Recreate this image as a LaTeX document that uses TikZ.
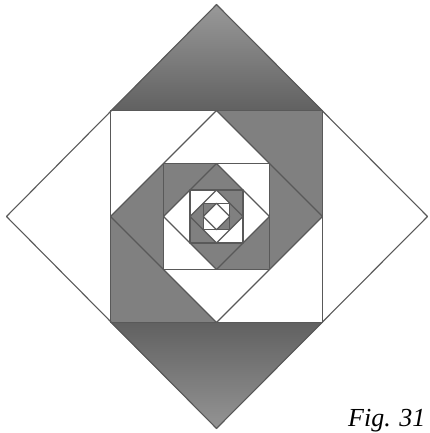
\documentclass[tikz,border=0pt]{standalone}
\usepackage{fontspec}
\setmainfont{Liberation Serif}
\begin{document}
\begin{tikzpicture}[x=1pt,y=-1pt,
  pencil/.style={draw=black!65, line width=1.1pt, line join=round},
  dark/.style={fill=black!50},
  figlabel/.style={inner sep=0pt, font=\itshape\fontsize{26}{30}\selectfont}]
\useasboundingbox (0,0) rectangle (430,433);
\begin{scope}[shift={(216.5,216.5)}]
  % Level A: outer diamond minus first square (top and bottom dark)
  \shade[top color=black!40, bottom color=black!62] (0,-212) -- (-106,-106) -- (106,-106) -- cycle;
  \shade[top color=black!62, bottom color=black!42] (0,212) -- (-106,106) -- (106,106) -- cycle;
  % Level B: square 106 minus diamond (TR, BL dark)
  \fill[dark] (106,-106) -- (0,-106) -- (106,0) -- cycle;
  \fill[dark] (-106,106) -- (-106,0) -- (0,106) -- cycle;
  % Level C: diamond 106 minus square 53 (left, right dark)
  \fill[dark] (-106,0) -- (-53,-53) -- (-53,53) -- cycle;
  \fill[dark] (106,0) -- (53,-53) -- (53,53) -- cycle;
  % Level D: square 53 minus diamond (TL, BR dark)
  \fill[dark] (-53,-53) -- (0,-53) -- (-53,0) -- cycle;
  \fill[dark] (53,53) -- (53,0) -- (0,53) -- cycle;
  % Level E: diamond 53 minus square 26.5 (top, bottom dark)
  \fill[dark] (0,-53) -- (-26.5,-26.5) -- (26.5,-26.5) -- cycle;
  \fill[dark] (0,53) -- (-26.5,26.5) -- (26.5,26.5) -- cycle;
  % Level F: square 26.5 minus diamond (TR, BL dark)
  \fill[dark] (26.5,-26.5) -- (0,-26.5) -- (26.5,0) -- cycle;
  \fill[dark] (-26.5,26.5) -- (-26.5,0) -- (0,26.5) -- cycle;
  % Level G: diamond 26.5 minus square 13.25 (left, right dark)
  \fill[dark] (-26.5,0) -- (-13.25,-13.25) -- (-13.25,13.25) -- cycle;
  \fill[dark] (26.5,0) -- (13.25,-13.25) -- (13.25,13.25) -- cycle;
  % Level H: square 13.25 minus diamond (TL, BR dark)
  \fill[dark] (-13.25,-13.25) -- (0,-13.25) -- (-13.25,0) -- cycle;
  \fill[dark] (13.25,13.25) -- (13.25,0) -- (0,13.25) -- cycle;
  % Outlines
  \draw[pencil] (0,-212) -- (211,0) -- (0,212) -- (-210,0) -- cycle;
  \foreach \h in {106,53,26.5,13.25} {
    \draw[pencil] (-\h,-\h) rectangle (\h,\h);
    \draw[pencil] (0,-\h) -- (\h,0) -- (0,\h) -- (-\h,0) -- cycle;
  }
\end{scope}
\node[figlabel, anchor=base west] (fig) at (348,426) {Fig. 31};
\end{tikzpicture}
\end{document}
